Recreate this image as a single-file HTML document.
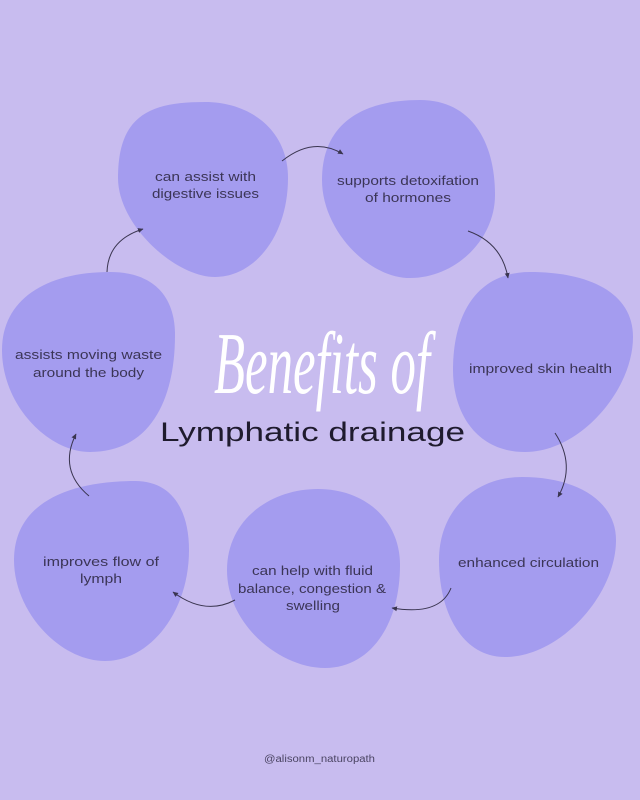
<!DOCTYPE html>
<html><head><meta charset="utf-8"><style>
html,body{margin:0;padding:0}
body{width:640px;height:800px;background:#c8bcef;position:relative;overflow:hidden}
svg{position:absolute;left:0;top:0}
</style></head><body>
<svg width="640" height="800" viewBox="0 0 640 800">
<defs>
<marker id="a" markerWidth="6" markerHeight="6" refX="5" refY="3" orient="auto" markerUnits="userSpaceOnUse">
<path d="M0,0.5 L5.5,3 L0,5.5 Z" fill="#3a3550"/>
</marker>
</defs>
<g fill="#a49cef">
<path d="M205,102 C250,102 288,130 288,178 C288,235 255,277 215,277 C175,277 118,225 118,178 C118,115 150,102 205,102 Z"/>
<path d="M420,100 C470,100 495,140 495,195 C495,240 455,278 410,278 C368,278 322,230 322,180 C322,125 360,100 420,100 Z"/>
<path d="M110,272 C152,272 175,295 175,335 C175,400 150,452 90,452 C48,452 2,405 2,350 C2,300 45,272 110,272 Z"/>
<path d="M530,272 C588,272 633,292 633,337 C633,390 580,452 525,452 C478,452 453,415 453,370 C453,310 480,272 530,272 Z"/>
<path d="M522,477 C575,477 616,500 616,540 C616,595 560,657 505,657 C462,657 439,612 439,560 C439,510 475,477 522,477 Z"/>
<path d="M318,489 C365,489 400,520 400,565 C400,625 370,668 325,668 C280,668 227,625 227,570 C227,520 270,489 318,489 Z"/>
<path d="M135,481 C172,481 189,510 189,550 C189,612 150,661 105,661 C60,661 14,612 14,560 C14,505 65,481 135,481 Z"/>
</g>
<g fill="none" stroke="#3a3550" stroke-width="1" marker-end="url(#a)">
<path d="M282,161 Q313,136 343,154"/>
<path d="M468,231 Q502,243 508,278"/>
<path d="M555,433 Q576,465 558,497"/>
<path d="M451,588 Q440,616 392,608"/>
<path d="M235,600 Q205,616 173,592"/>
<path d="M89,496 Q58,470 76,434"/>
<path d="M107,272 Q108,240 143,229"/>
</g>
<g font-family="Liberation Sans, sans-serif" font-size="13" fill="#3b3556">
<text x="155" y="181" textLength="101" lengthAdjust="spacingAndGlyphs">can assist with</text>
<text x="152" y="198" textLength="107" lengthAdjust="spacingAndGlyphs">digestive issues</text>
<text x="337" y="185" textLength="142" lengthAdjust="spacingAndGlyphs">supports detoxifation</text>
<text x="365" y="202" textLength="86" lengthAdjust="spacingAndGlyphs">of hormones</text>
<text x="15" y="359" textLength="147" lengthAdjust="spacingAndGlyphs">assists moving waste</text>
<text x="33" y="377" textLength="111" lengthAdjust="spacingAndGlyphs">around the body</text>
<text x="469" y="373" textLength="143" lengthAdjust="spacingAndGlyphs">improved skin health</text>
<text x="458" y="567" textLength="141" lengthAdjust="spacingAndGlyphs">enhanced circulation</text>
<text x="252" y="575" textLength="121" lengthAdjust="spacingAndGlyphs">can help with fluid</text>
<text x="238" y="593" textLength="148" lengthAdjust="spacingAndGlyphs">balance, congestion &amp;</text>
<text x="286" y="610" textLength="54" lengthAdjust="spacingAndGlyphs">swelling</text>
<text x="43" y="566" textLength="116" lengthAdjust="spacingAndGlyphs">improves flow of</text>
<text x="80" y="583" textLength="42" lengthAdjust="spacingAndGlyphs">lymph</text>
</g>
<text x="214" y="393" font-family="Liberation Serif, serif" font-style="italic" font-size="88" fill="#ffffff" textLength="216" lengthAdjust="spacingAndGlyphs">Benefits of</text>
<text x="160" y="441" font-family="Liberation Sans, sans-serif" font-size="27" fill="#1f1b2e" textLength="305" lengthAdjust="spacingAndGlyphs">Lymphatic drainage</text>
<text x="264" y="762" font-family="Liberation Sans, sans-serif" font-size="10" fill="#4a4462" textLength="111" lengthAdjust="spacingAndGlyphs">@alisonm_naturopath</text>
</svg>
</body></html>
